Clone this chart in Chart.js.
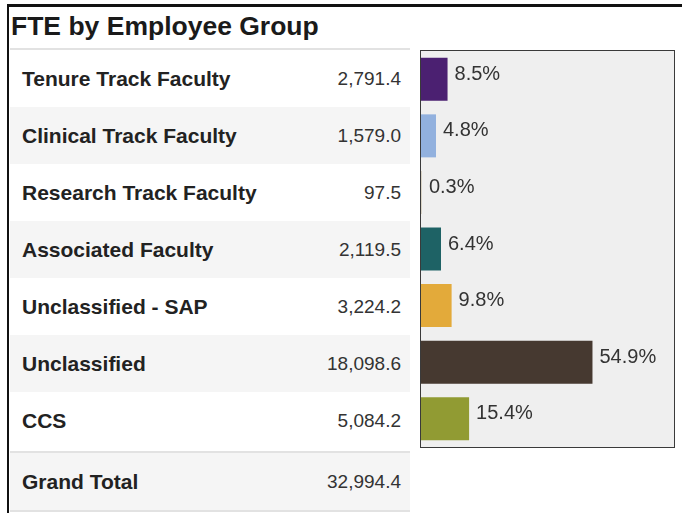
<!DOCTYPE html>
<html>
<head>
<meta charset="utf-8">
<title>FTE by Employee Group</title>
<script src="https://cdn.jsdelivr.net/npm/chart.js@4/dist/chart.umd.min.js"></script>
<style>
    html, body {
        margin: 0;
        padding: 0;
        width: 682px;
        height: 513px;
        overflow: hidden;
        background: #fff;
        font-family: "Liberation Sans", Arial, sans-serif;
    }
    .frame {
        position: absolute;
        left: 7px;
        top: 4px;
        width: 700px;
        height: 540px;
        border-top: 3px solid #111;
        border-left: 2px solid #111;
    }
    .title {
        position: absolute;
        left: 11px;
        top: 13px;
        font-size: 26.5px;
        line-height: 26px;
        font-weight: bold;
        color: #1a1a1a;
        white-space: nowrap;
    }
    .rule {
        position: absolute;
        left: 10px;
        width: 400px;
        height: 2px;
        background: #e2e2e2;
    }
    .row {
        position: absolute;
        left: 10px;
        width: 400px;
        height: 57px;
        box-sizing: border-box;
        padding: 0 9px 0 12px;
        display: flex;
        align-items: center;
        justify-content: space-between;
        white-space: nowrap;
    }
    .row.shaded {
        background: #f5f5f5;
    }
    .row .label {
        font-size: 21px;
        font-weight: bold;
        color: #222;
    }
    .row .value {
        font-size: 19px;
        color: #333;
    }
    .chart-box {
        position: absolute;
        left: 420px;
        top: 50px;
        width: 253px;
        height: 396px;
        border: 1px solid #3a3a3a;
        background: #efefef;
    }
</style>
</head>
<body>
<div class="frame"></div>
<div class="title">FTE by Employee Group</div>
<div class="rule" style="top: 48px;"></div>
<div id="table"></div>
<div class="chart-box">
    <canvas id="canvas-fte"></canvas>
</div>

<script>
const categories = [
    'Tenure Track Faculty',
    'Clinical Track Faculty',
    'Research Track Faculty',
    'Associated Faculty',
    'Unclassified - SAP',
    'Unclassified',
    'CCS'
];
const fteValues = [2791.4, 1579.0, 97.5, 2119.5, 3224.2, 18098.6, 5084.2];
const pctShare = [8.5, 4.8, 0.3, 6.4, 9.8, 54.9, 15.4];
const grandTotal = 32994.4;
const barColors = ['#4b2071', '#92b1de', '#d9d2c4', '#1e6265', '#e3aa3a', '#463930', '#919b33'];

function fmt(n) {
    return n.toLocaleString('en-US', { minimumFractionDigits: 1, maximumFractionDigits: 1 });
}

function buildTable() {
    const table = document.getElementById('table');
    const rowHeight = 57;

    categories.forEach((name, i) => {
        const row = document.createElement('div');
        row.className = 'row' + (i % 2 === 1 ? ' shaded' : '');
        row.style.top = (50 + i * rowHeight) + 'px';
        row.innerHTML = `
            <span class="label">${name}</span>
            <span class="value">${fmt(fteValues[i])}</span>
        `;
        table.appendChild(row);
    });

    // Grand total row with separator lines
    const top = 50 + categories.length * rowHeight + 2;
    const sep = document.createElement('div');
    sep.className = 'rule';
    sep.style.top = top + 'px';
    table.appendChild(sep);

    const total = document.createElement('div');
    total.className = 'row shaded';
    total.style.top = (top + 2) + 'px';
    total.innerHTML = `
        <span class="label">Grand Total</span>
        <span class="value">${fmt(grandTotal)}</span>
    `;
    table.appendChild(total);

    const bottom = document.createElement('div');
    bottom.className = 'rule';
    bottom.style.top = (top + 2 + rowHeight) + 'px';
    table.appendChild(bottom);
}

// Draws the percentage next to each bar
const pctLabels = {
    id: 'pctLabels',
    afterDatasetsDraw(chart) {
        const ctx = chart.ctx;
        const meta = chart.getDatasetMeta(0);
        ctx.save();
        ctx.font = '20px "Liberation Sans", Arial, sans-serif';
        ctx.fillStyle = '#333';
        ctx.textAlign = 'left';
        ctx.textBaseline = 'middle';
        meta.data.forEach((bar, i) => {
            ctx.fillText(pctShare[i].toFixed(1) + '%', bar.x + 7, bar.y - 5);
        });
        ctx.restore();
    }
};

function createChart() {
    const ctx = document.getElementById('canvas-fte').getContext('2d');
    new Chart(ctx, {
        type: 'bar',
        data: {
            labels: categories,
            datasets: [{
                label: 'Share of FTE',
                data: pctShare,
                backgroundColor: barColors,
                borderWidth: 0,
                categoryPercentage: 1,
                barPercentage: 0.76,
            }]
        },
        options: {
            indexAxis: 'y',
            responsive: true,
            maintainAspectRatio: false,
            animation: false,
            layout: { padding: 0 },
            plugins: {
                legend: { display: false },
                tooltip: { enabled: false }
            },
            scales: {
                x: {
                    display: false,
                    min: 0,
                    max: 81
                },
                y: {
                    display: false
                }
            }
        },
        plugins: [pctLabels]
    });
}

window.addEventListener('load', () => {
    buildTable();
    createChart();
});
</script>
</body>
</html>
